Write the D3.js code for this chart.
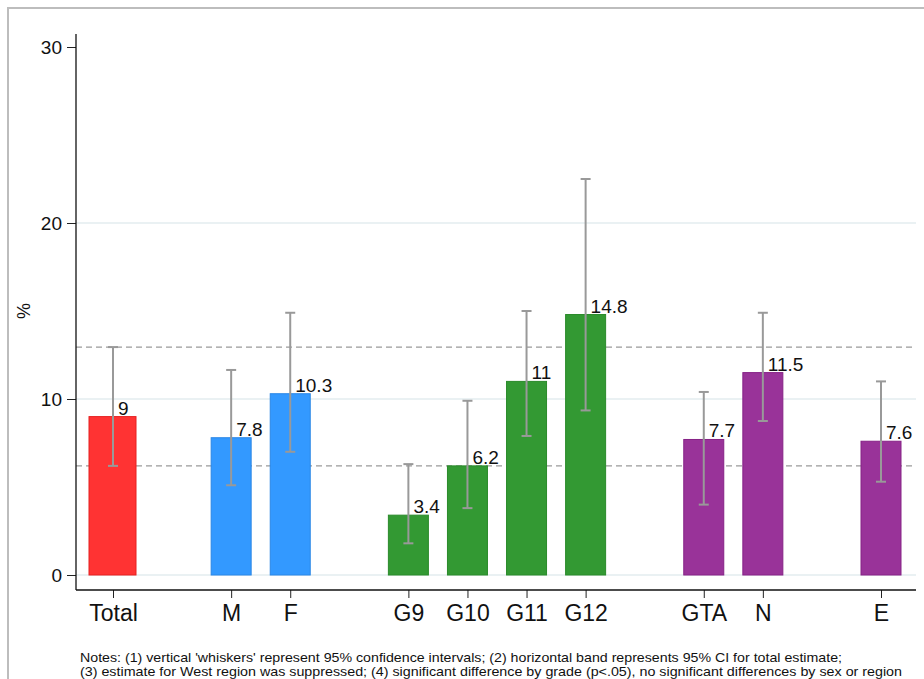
<!DOCTYPE html>
<html>
<head>
<meta charset="utf-8">
<script src="https://cdn.jsdelivr.net/npm/d3@7"></script>
<style>
  body { margin: 0; background: #fff; }
  svg { font-family: Arial, "Liberation Sans", sans-serif; }
</style>
</head>
<body>
<svg id="chart" width="924" height="679"></svg>
<script>
// data
const categories = ['Total', 'M', 'F', 'G9', 'G10', 'G11', 'G12', 'GTA', 'N', 'E'];
const groups = ['total', 'sex', 'sex', 'grade', 'grade', 'grade', 'grade', 'region', 'region', 'region'];
const slots = [0, 2, 3, 5, 6, 7, 8, 10, 11, 13]; // gaps between groups, W (slot 12) suppressed
const values = [9, 7.8, 10.3, 3.4, 6.2, 11, 14.8, 7.7, 11.5, 7.6];
const ciLow = [6.2, 5.1, 7.0, 1.8, 3.8, 7.9, 9.35, 4.0, 8.75, 5.3];
const ciHigh = [12.95, 11.65, 14.9, 6.3, 9.9, 15.0, 22.5, 10.4, 14.9, 11.0];
const yTicks = [0, 10, 20, 30];
const notes = [
  "Notes: (1) vertical 'whiskers' represent 95% confidence intervals; (2) horizontal band represents 95% CI for total estimate;",
  "(3) estimate for West region was suppressed; (4) significant difference by grade (p<.05), no significant differences by sex or region"
];

const colors = { total: '#ff3333', sex: '#3399ff', grade: '#339933', region: '#993399' };
const strokes = { total: '#e62020', sex: '#2a86e6', grade: '#2a8a2a', region: '#862286' };

const rows = categories.map((c, i) => ({
  cat: c, group: groups[i], slot: slots[i], value: values[i], lo: ciLow[i], hi: ciHigh[i]
}));

const svg = d3.select('#chart');

// outer frame
svg.append('rect')
  .attr('x', 8).attr('y', 8)
  .attr('width', 1000).attr('height', 1000)
  .attr('fill', 'none')
  .attr('stroke', '#bdbdbd')
  .attr('stroke-width', 2);

const plotLeft = 76, plotRight = 916, plotTop = 34, plotBottom = 590;

const x = d3.scaleLinear().domain([0, 13]).range([113, 881]);
const y = d3.scaleLinear().domain([0, 30]).range([575, 47]);

// grid
svg.append('g')
  .selectAll('line')
  .data([0, 10, 20])
  .join('line')
  .attr('x1', plotLeft).attr('x2', plotRight)
  .attr('y1', d => y(d)).attr('y2', d => y(d))
  .attr('stroke', '#eaf1f3')
  .attr('stroke-width', 2);

// band for total CI
const total = rows[0];
svg.append('g')
  .selectAll('line')
  .data([total.lo, total.hi])
  .join('line')
  .attr('x1', plotLeft).attr('x2', plotRight)
  .attr('y1', d => y(d)).attr('y2', d => y(d))
  .attr('stroke', '#9a9a9a')
  .attr('stroke-width', 1.3)
  .attr('stroke-dasharray', '6,4');

// bars
svg.append('g')
  .selectAll('rect')
  .data(rows)
  .join('rect')
  .attr('x', d => x(d.slot) - (d.group === 'total' ? 24 : 20))
  .attr('width', d => d.group === 'total' ? 47 : 40)
  .attr('y', d => y(d.value))
  .attr('height', d => y(0) - y(d.value))
  .attr('fill', d => colors[d.group])
  .attr('stroke', d => strokes[d.group])
  .attr('stroke-width', 1);

// whiskers
const wk = svg.append('g')
  .attr('stroke', '#999999')
  .attr('stroke-width', 2);
wk.selectAll('.stem')
  .data(rows)
  .join('line')
  .attr('class', 'stem')
  .attr('x1', d => x(d.slot)).attr('x2', d => x(d.slot))
  .attr('y1', d => y(d.lo)).attr('y2', d => y(d.hi));
wk.selectAll('.cap')
  .data(rows.flatMap(d => [{ s: d.slot, v: d.lo }, { s: d.slot, v: d.hi }]))
  .join('line')
  .attr('class', 'cap')
  .attr('x1', d => x(d.s) - 5).attr('x2', d => x(d.s) + 5)
  .attr('y1', d => y(d.v)).attr('y2', d => y(d.v));

// value labels
svg.append('g')
  .selectAll('text')
  .data(rows)
  .join('text')
  .attr('x', d => x(d.slot) + 5)
  .attr('y', d => y(d.value) - 2)
  .attr('font-size', 19)
  .attr('fill', '#111')
  .text(d => d.value);

// y axis
const yAxis = svg.append('g')
  .attr('transform', `translate(${plotLeft},0)`)
  .call(d3.axisLeft(y).tickValues(yTicks).tickSize(9).tickPadding(5).tickSizeOuter(0));
yAxis.select('.domain').remove();
yAxis.selectAll('text').attr('font-size', 19).attr('fill', '#111').attr('font-family', 'Arial, Liberation Sans, sans-serif');
yAxis.selectAll('line').attr('stroke', '#222');
svg.append('line')
  .attr('x1', plotLeft).attr('x2', plotLeft)
  .attr('y1', plotTop).attr('y2', plotBottom)
  .attr('stroke', '#111').attr('stroke-width', 1.3);

// x axis
const xAxis = svg.append('g')
  .attr('transform', `translate(0,${plotBottom})`)
  .call(d3.axisBottom(x).tickValues(slots).tickFormat((d, i) => categories[i]).tickSize(8).tickPadding(7).tickSizeOuter(0));
xAxis.select('.domain').remove();
xAxis.selectAll('text').attr('font-size', 23).attr('fill', '#111').attr('font-family', 'Arial, Liberation Sans, sans-serif');
xAxis.selectAll('line').attr('stroke', '#222');
svg.append('line')
  .attr('x1', plotLeft).attr('x2', plotRight)
  .attr('y1', plotBottom).attr('y2', plotBottom)
  .attr('stroke', '#111').attr('stroke-width', 1.3);

// y label
svg.append('text')
  .attr('transform', 'translate(30,311) rotate(-90)')
  .attr('text-anchor', 'middle')
  .attr('font-size', 18)
  .attr('fill', '#111')
  .text('%');

// notes
svg.append('g')
  .selectAll('text')
  .data(notes)
  .join('text')
  .attr('x', 80)
  .attr('y', (d, i) => 662 + i * 14)
  .attr('font-size', 13)
  .attr('fill', '#111')
  .attr('textLength', (d, i) => i === 0 ? 762 : 822)
  .attr('lengthAdjust', 'spacingAndGlyphs')
  .text(d => d);
</script>
</body>
</html>
